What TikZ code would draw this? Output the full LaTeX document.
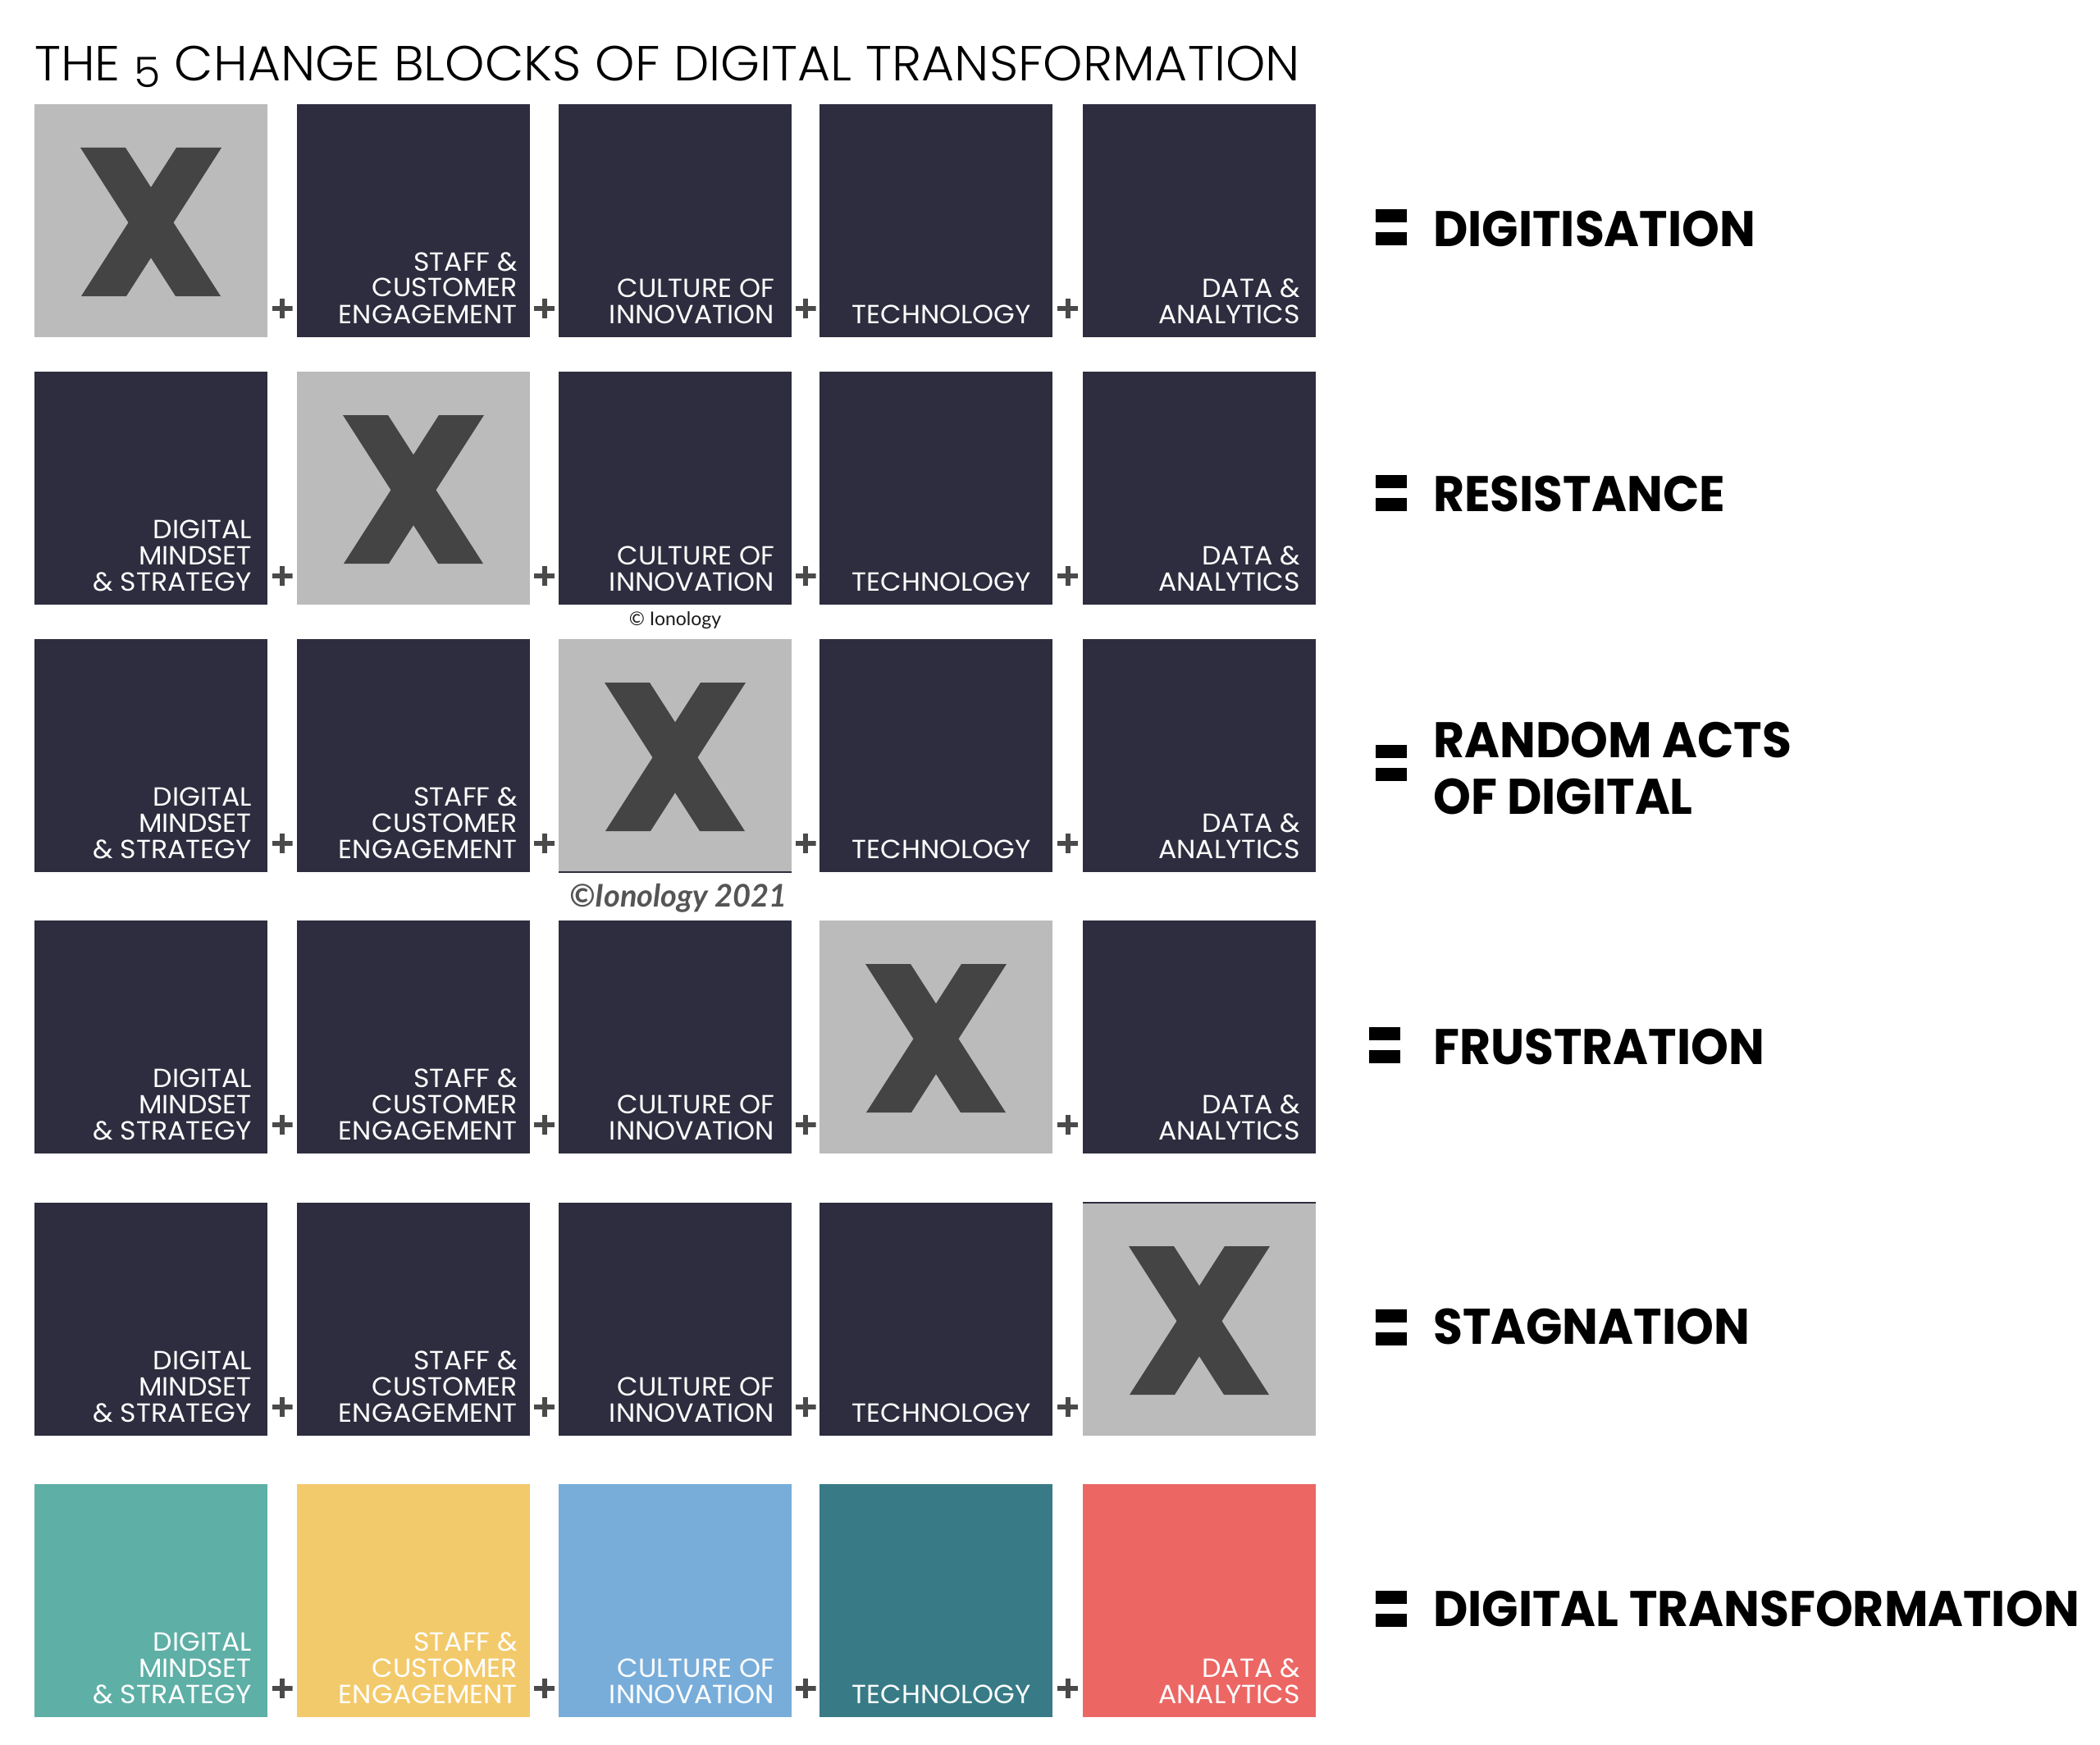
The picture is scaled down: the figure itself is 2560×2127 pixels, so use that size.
\documentclass[tikz,border=0pt]{standalone}
\usepackage{fontspec}
\usetikzlibrary{calc}
\setmainfont{Liberation Sans}
\newfontfamily\blockfont{Poppins}[FakeStretch=1.035]
\IfFontExistsTF{Poppins Light}{\newfontfamily\titlefont{Poppins Light}[FakeStretch=1.025]}{\newfontfamily\titlefont{Poppins}[FakeStretch=1.025]}
\newfontfamily\eqfont{Poppins}[FakeStretch=0.956]
\newfontfamily\copyfont{Lato}
\definecolor{navy}{HTML}{2D2D3F}
\definecolor{xbg}{HTML}{BBBBBB}
\definecolor{xfg}{HTML}{444444}
\definecolor{plusc}{HTML}{4A4A4A}
\definecolor{cteal}{HTML}{5EAFA6}
\definecolor{cyellow}{HTML}{F3CA6B}
\definecolor{cblue}{HTML}{78ADDA}
\definecolor{cdteal}{HTML}{387B86}
\definecolor{ccoral}{HTML}{EC6764}
\definecolor{copyc}{HTML}{555555}
\newcommand\rstack[1]{\vbox{\baselineskip=32pt\lineskiplimit=-\maxdimen\halign{\hfil##\cr#1\crcr}}}
\newcommand\lstack[1]{\vbox{\baselineskip=69pt\lineskiplimit=-\maxdimen\halign{##\hfil\cr#1\crcr}}}
\newcommand\tDMS{\rstack{DIGITAL\cr MINDSET\cr \& STRATEGY}}
\newcommand\tSCE{\rstack{STAFF \&\cr CUSTOMER\cr ENGAGEMENT}}
\newcommand\tCOI{\rstack{CULTURE OF\cr INNOVATION}}
\newcommand\tTEC{\rstack{TECHNOLOGY}}
\newcommand\tDAA{\rstack{DATA \&\cr ANALYTICS}}
\tikzset{
  blkbox/.style={anchor=north west, minimum width=284pt, minimum height=284pt, inner sep=0pt, outer sep=0pt},
  blabel/.style={text=white, inner sep=0pt, font=\blockfont\fontsize{32pt}{32pt}\selectfont},
  plusnode/.style={minimum width=25pt, minimum height=24pt, inner sep=0pt,
    path picture={\draw[plusc, line width=6pt]
      (path picture bounding box.north) -- (path picture bounding box.south)
      (path picture bounding box.west) -- (path picture bounding box.east);}},
  eqbar/.style={fill=black, minimum width=38pt, minimum height=16pt, inner sep=0pt},
  eqtext/.style={anchor=base west, inner sep=0pt, font=\eqfont\bfseries\fontsize{61pt}{69pt}\selectfont},
}
\newcommand\cell[6]{%
  \node[blkbox, fill=#4] (#1) at (#2,#3) {};
  \node[blabel, anchor=base east] (#1t) at ([xshift=-#6pt, yshift=17pt]#1.south east) {#5};}
\newcommand\xcell[3]{%
  \node[blkbox, fill=xbg] (#1) at (#2,#3) {};
  \fill[xfg, shift={(#1.north west)}] (56,53)--(111,53)--(227,234)--(172,234)--cycle
     (173,53)--(228,53)--(112,234)--(57,234)--cycle;}
\begin{document}
\begin{tikzpicture}[x=1pt,y=-1pt]
\useasboundingbox (0,0) rectangle (2560,2127);
\fill[white] (0,0) rectangle (2560,2127);
% title
\node[anchor=base west, inner sep=0pt, font=\titlefont\fontsize{60pt}{60pt}\selectfont] (title) at (42,99) {THE \raisebox{-8pt}{\scalebox{0.85}{5}} CHANGE BLOCKS OF DIGITAL TRANSFORMATION};
% row 1
\xcell{b11}{42}{127}
\cell{b12}{362}{127}{navy}{\tSCE}{15}
\cell{b13}{681}{127}{navy}{\tCOI}{21}
\cell{b14}{999}{127}{navy}{\tTEC}{26}
\cell{b15}{1320}{127}{navy}{\tDAA}{19}
% row 2
\cell{b21}{42}{453}{navy}{\tDMS}{19}
\xcell{b22}{362}{453}
\cell{b23}{681}{453}{navy}{\tCOI}{21}
\cell{b24}{999}{453}{navy}{\tTEC}{26}
\cell{b25}{1320}{453}{navy}{\tDAA}{19}
% row 3
\cell{b31}{42}{779}{navy}{\tDMS}{19}
\cell{b32}{362}{779}{navy}{\tSCE}{15}
\xcell{b33}{681}{779}
\cell{b34}{999}{779}{navy}{\tTEC}{26}
\cell{b35}{1320}{779}{navy}{\tDAA}{19}
% row 4
\cell{b41}{42}{1122}{navy}{\tDMS}{19}
\cell{b42}{362}{1122}{navy}{\tSCE}{15}
\cell{b43}{681}{1122}{navy}{\tCOI}{21}
\xcell{b44}{999}{1122}
\cell{b45}{1320}{1122}{navy}{\tDAA}{19}
% row 5
\cell{b51}{42}{1466}{navy}{\tDMS}{19}
\cell{b52}{362}{1466}{navy}{\tSCE}{15}
\cell{b53}{681}{1466}{navy}{\tCOI}{21}
\cell{b54}{999}{1466}{navy}{\tTEC}{26}
\xcell{b55}{1320}{1466}
% row 6
\cell{b61}{42}{1809}{cteal}{\tDMS}{19}
\cell{b62}{362}{1809}{cyellow}{\tSCE}{15}
\cell{b63}{681}{1809}{cblue}{\tCOI}{21}
\cell{b64}{999}{1809}{cdteal}{\tTEC}{26}
\cell{b65}{1320}{1809}{ccoral}{\tDAA}{19}
% edge lines
\draw[navy, line width=2.5pt] (b33.south west) -- (b33.south east);
\draw[navy, line width=2.5pt] (b55.north west) -- (b55.north east);
% plus signs
\foreach \r in {1,...,6}{
  \foreach \c/\d in {1/2,2/3,3/4,4/5}{
    \node[plusnode, yshift=35pt] (p\r\c) at ($(b\r\c.south east)!0.5!(b\r\d.south west)$) {};
  }}
% copyright
\node[anchor=base, inner sep=0pt, text=black!90, font=\copyfont\fontsize{23pt}{23pt}\selectfont] (copy1) at (823,762) {© Ionology};
\node[anchor=base, inner sep=0pt, text=copyc, font=\copyfont\bfseries\itshape\fontsize{38pt}{38pt}\selectfont] (copy2) at (827,1105) {©Ionology 2021};
% equals signs and results
\node[eqbar] (e1a) at (1696,263) {}; \node[eqbar] (e1b) at (1696,291) {};
\node[eqtext] (r1) at (1747,301) {DIGITISATION};
\node[eqbar] (e2a) at (1696,587) {}; \node[eqbar] (e2b) at (1696,615) {};
\node[eqtext] (r2) at (1747,623) {RESISTANCE};
\node[eqbar] (e3a) at (1696,916) {}; \node[eqbar] (e3b) at (1696,944) {};
\node[eqtext] (r3) at (1747,992) {\lstack{RANDOM ACTS\cr OF DIGITAL}};
\node[eqbar] (e4a) at (1688,1260) {}; \node[eqbar] (e4b) at (1688,1288) {};
\node[eqtext] (r4) at (1747,1297) {FRUSTRATION};
\node[eqbar] (e5a) at (1696,1604) {}; \node[eqbar] (e5b) at (1696,1632) {};
\node[eqtext] (r5) at (1747,1638) {STAGNATION};
\node[eqbar] (e6a) at (1696,1947) {}; \node[eqbar] (e6b) at (1696,1975) {};
\node[eqtext] (r6) at (1747,1982) {DIGITAL TRANSFORMATION};
\end{tikzpicture}
\end{document}
